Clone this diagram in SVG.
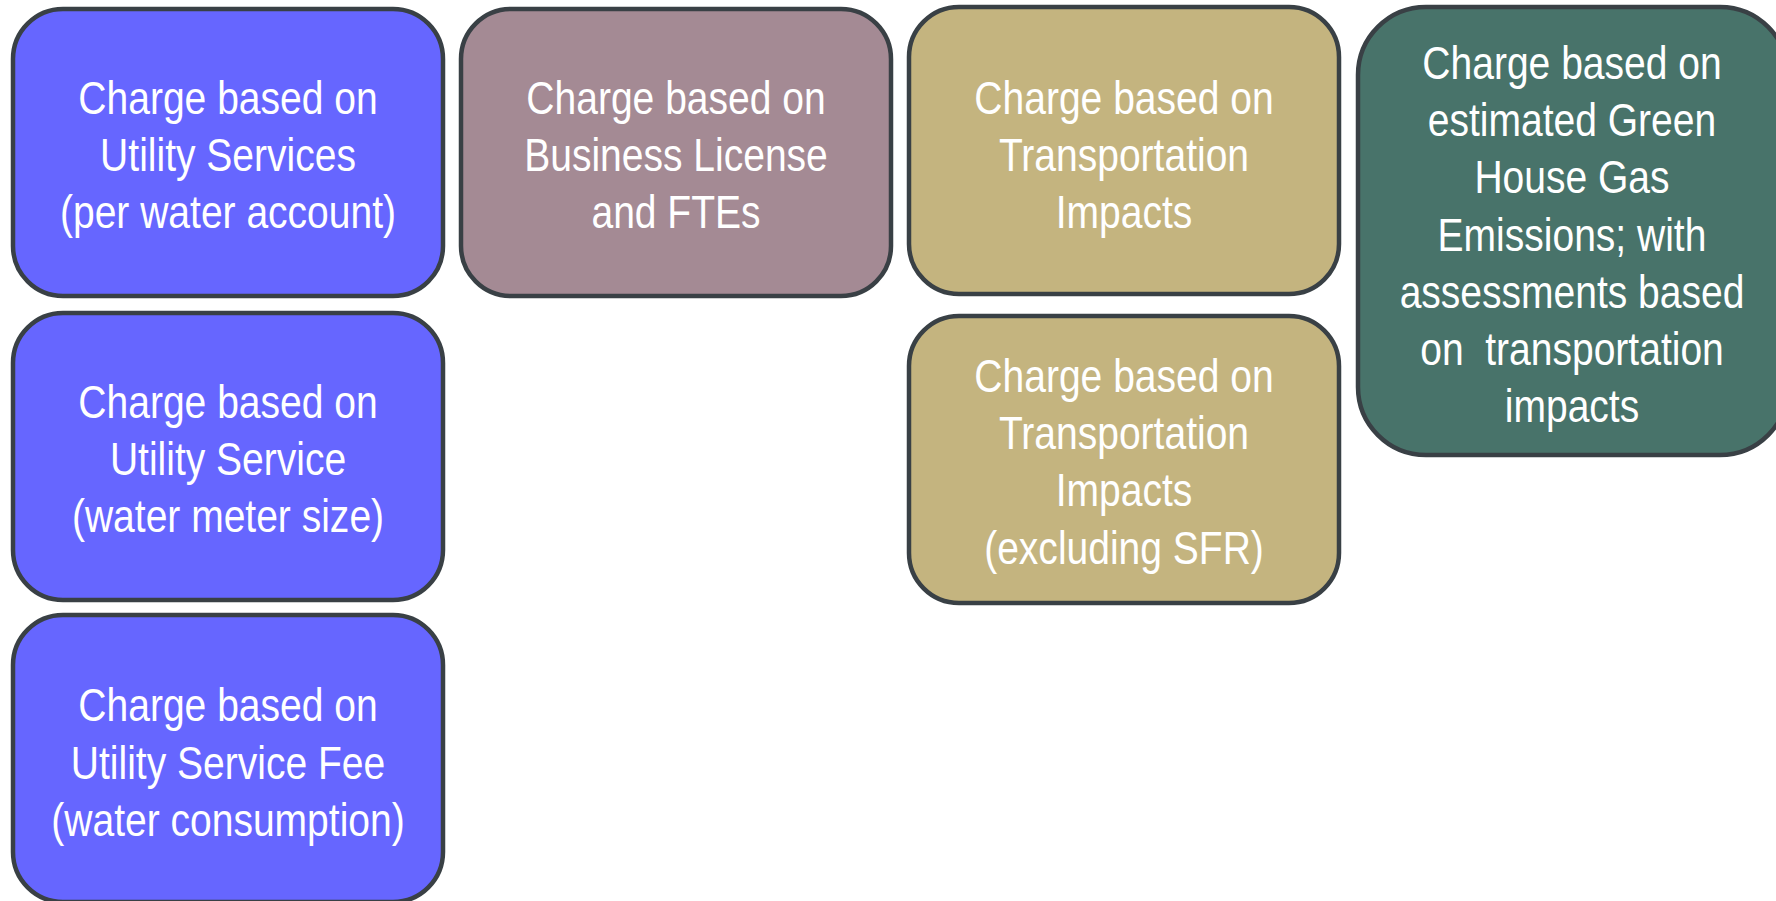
<svg xmlns="http://www.w3.org/2000/svg" width="1776" height="901" viewBox="0 0 1776 901">
<style>
.box{stroke:#394045;stroke-width:4.5}
.blue{fill:#6666FF}.purple{fill:#A48A94}.tan{fill:#C4B47F}.green{fill:#48736A}
text{font-family:"Liberation Sans",Arial,sans-serif;font-size:47px;fill:#FFFFFF;text-anchor:middle;white-space:pre}
</style>
<rect width="1776" height="901" fill="#FFFFFF"/>
<g id="connectors"></g>
<g id="node-utility-account">
<rect class="box blue" x="13" y="9" width="430" height="287" rx="50"/>
<g transform="translate(228 0) scale(0.83 1)">
<text x="0" y="114">Charge based on</text>
<text x="0" y="171">Utility Services</text>
<text x="0" y="228">(per water account)</text>
</g>
</g>
<g id="node-business-license">
<rect class="box purple" x="461" y="9" width="430" height="287" rx="50"/>
<g transform="translate(676 0) scale(0.83 1)">
<text x="0" y="114">Charge based on</text>
<text x="0" y="171">Business License</text>
<text x="0" y="228">and FTEs</text>
</g>
</g>
<g id="node-transportation">
<rect class="box tan" x="909" y="7" width="430" height="287" rx="50"/>
<g transform="translate(1124 0) scale(0.83 1)">
<text x="0" y="114">Charge based on</text>
<text x="0" y="171">Transportation</text>
<text x="0" y="228">Impacts</text>
</g>
</g>
<g id="node-ghg">
<rect class="box green" x="1358" y="7" width="430" height="448" rx="68"/>
<g transform="translate(1572 0) scale(0.83 1)">
<text x="0" y="79">Charge based on</text>
<text x="0" y="136">estimated Green</text>
<text x="0" y="193">House Gas</text>
<text x="0" y="251">Emissions; with</text>
<text x="0" y="308">assessments based</text>
<text x="0" y="365">on  transportation</text>
<text x="0" y="422">impacts</text>
</g>
</g>
<g id="node-transportation-exsfr">
<rect class="box tan" x="909" y="316" width="430" height="287" rx="50"/>
<g transform="translate(1124 0) scale(0.83 1)">
<text x="0" y="392">Charge based on</text>
<text x="0" y="449">Transportation</text>
<text x="0" y="506">Impacts</text>
<text x="0" y="564">(excluding SFR)</text>
</g>
</g>
<g id="node-utility-meter">
<rect class="box blue" x="13" y="313" width="430" height="287" rx="50"/>
<g transform="translate(228 0) scale(0.83 1)">
<text x="0" y="418">Charge based on</text>
<text x="0" y="475">Utility Service</text>
<text x="0" y="532">(water meter size)</text>
</g>
</g>
<g id="node-utility-consumption">
<rect class="box blue" x="13" y="615" width="430" height="287" rx="50"/>
<g transform="translate(228 0) scale(0.83 1)">
<text x="0" y="721">Charge based on</text>
<text x="0" y="779">Utility Service Fee</text>
<text x="0" y="836">(water consumption)</text>
</g>
</g>
</svg>
